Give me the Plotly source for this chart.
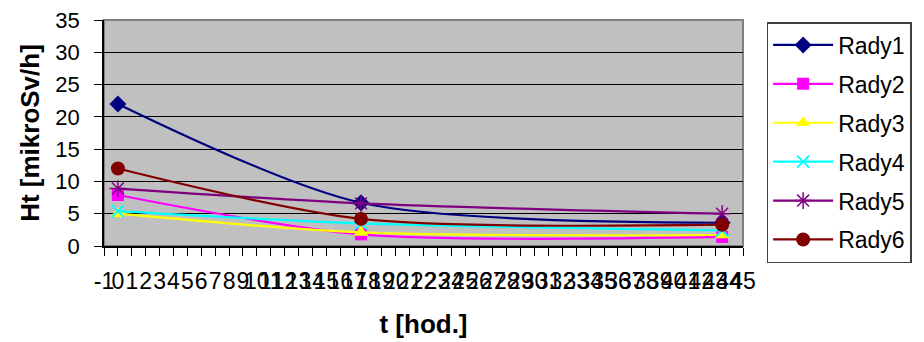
import plotly.graph_objects as go

# Time of measurement [hours]
t_hod = [0, 17.5, 43.5]

# Dose rate Ht [mikroSv/h] per series
rady1 = [22.0, 6.7, 3.6]
rady2 = [7.9, 1.8, 1.4]
rady3 = [5.0, 2.1, 1.7]
rady4 = [5.4, 3.5, 2.4]
rady5 = [8.9, 6.6, 5.0]
rady6 = [12.0, 4.2, 3.3]

series_names = ["Rady1", "Rady2", "Rady3", "Rady4", "Rady5", "Rady6"]
series_values = [rady1, rady2, rady3, rady4, rady5, rady6]

x_tick_vals = list(range(-1, 46))
y_tick_vals = [0, 5, 10, 15, 20, 25, 30, 35]

styles = [
    dict(color="#000080", symbol="diamond", size=13, mline=None),
    dict(color="#FF00FF", symbol="square", size=12, mline=None),
    dict(color="#FFFF00", symbol="triangle-up", size=13, mline=None),
    dict(color="#00FFFF", symbol="x-thin-open", size=12, mline=2),
    dict(color="#800080", symbol="asterisk-open", size=14, mline=1.5),
    dict(color="#800000", symbol="circle", size=14, mline=None),
]

FONT = "Liberation Sans, Arial, sans-serif"

# layout geometry (px)
W, H = 924, 342
M_L, M_R, M_T, M_B = 104, 179, 20, 40
PLOT_BOTTOM = 246
paper_h = H - M_T - M_B
y_dom0 = (H - M_B - PLOT_BOTTOM) / paper_h
legend_top_px = 22
legend_y = (H - M_B - legend_top_px) / paper_h

fig = go.Figure()
for i, (name, vals, st) in enumerate(zip(series_names, series_values, styles)):
    marker = dict(color=st["color"], symbol=st["symbol"], size=st["size"])
    if st["mline"]:
        marker["line"] = dict(color=st["color"], width=st["mline"])
    else:
        marker["line"] = dict(width=0)
    fig.add_trace(go.Scatter(
        x=t_hod, y=vals, name=name, mode="lines+markers",
        line=dict(color=st["color"], width=2.2, shape="spline", smoothing=0.8),
        marker=marker, legendgroup=f"g{i}",
    ))

# gray plot-area frame
fig.add_shape(type="rect", xref="x domain", yref="y domain", x0=0, y0=0, x1=1, y1=1,
              line=dict(color="#808080", width=2), layer="below")

fig.update_layout(
    width=W, height=H,
    margin=dict(l=M_L, r=M_R, t=M_T, b=M_B),
    paper_bgcolor="white",
    plot_bgcolor="#C0C0C0",
    font=dict(family=FONT, color="black", size=22),
    showlegend=True,
    legend=dict(
        x=1.037, y=legend_y, xanchor="left", yanchor="top",
        bgcolor="white", bordercolor="#404040", borderwidth=1.5,
        font=dict(family=FONT, size=23, color="black"),
        tracegroupgap=6, itemwidth=60,
        traceorder="grouped",
    ),
    xaxis=dict(
        range=[-1, 45], tickmode="array", tickvals=x_tick_vals,
        ticktext=[str(v) for v in x_tick_vals], tickangle=0,
        showgrid=False, zeroline=False,
        showline=True, linecolor="black", linewidth=1.5,
        ticks="outside", ticklen=8, tickcolor="black", tickwidth=1.2,
        tickfont=dict(family=FONT, size=23, color="black"),
        ticklabelstandoff=6,
        title=dict(text="<b>t [hod.]</b>", font=dict(family=FONT, size=26, color="black"),
                   standoff=21),
        automargin=False,
    ),
    yaxis=dict(
        domain=[y_dom0, 1],
        range=[0, 35], tickmode="array", tickvals=y_tick_vals,
        showgrid=True, gridcolor="black", gridwidth=1.3,
        zeroline=False,
        showline=True, linecolor="black", linewidth=1.5,
        ticks="outside", ticklen=8, tickcolor="black", tickwidth=1.2,
        tickfont=dict(family=FONT, size=22, color="black"),
        ticklabelstandoff=10,
        title=dict(text="<b>Ht [mikroSv/h]</b>", font=dict(family=FONT, size=26, color="black"),
                   standoff=8),
        automargin=False,
    ),
)

fig.write_html("out.html")
